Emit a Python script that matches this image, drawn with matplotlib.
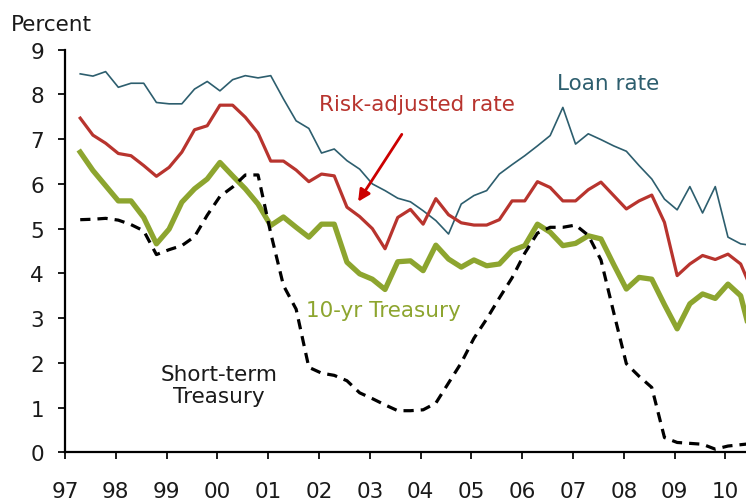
import pandas as pd
import matplotlib
matplotlib.use("Agg")
import matplotlib.pyplot as plt

# quarterly observations, 1997Q1 - 2010Q2
quarters = pd.period_range('1997Q1', '2010Q2', freq='Q')

loan_rate = [8.46, 8.41, 8.51, 8.16, 8.25, 8.25, 7.82, 7.79, 7.79, 8.12,
             8.29, 8.08, 8.33, 8.42, 8.37, 8.42, 7.90, 7.41, 7.24, 6.69,
             6.78, 6.52, 6.33, 6.00, 5.85, 5.68, 5.60, 5.40, 5.18, 4.88,
             5.55, 5.74, 5.85, 6.22, 6.43, 6.63, 6.85, 7.08, 7.71, 6.89,
             7.12, 6.99, 6.85, 6.73, 6.41, 6.11, 5.66, 5.42, 5.94, 5.35,
             5.94, 4.81, 4.66, 4.62]

risk_adjusted = [7.47, 7.09, 6.91, 6.68, 6.63, 6.41, 6.17, 6.37, 6.71, 7.21,
                 7.30, 7.76, 7.76, 7.49, 7.14, 6.51, 6.51, 6.31, 6.05, 6.22,
                 6.18, 5.48, 5.27, 5.00, 4.55, 5.25, 5.43, 5.10, 5.67, 5.31,
                 5.13, 5.08, 5.08, 5.20, 5.62, 5.62, 6.05, 5.92, 5.62, 5.62,
                 5.87, 6.04, 5.74, 5.44, 5.62, 5.75, 5.14, 3.95, 4.21, 4.40,
                 4.31, 4.43, 4.21, 3.55]

ten_yr = [6.71, 6.30, 5.96, 5.62, 5.62, 5.25, 4.66, 4.99, 5.59, 5.89,
          6.11, 6.48, 6.18, 5.89, 5.55, 5.07, 5.26, 5.03, 4.81, 5.10,
          5.10, 4.25, 3.99, 3.87, 3.64, 4.26, 4.28, 4.06, 4.63, 4.32,
          4.14, 4.30, 4.17, 4.21, 4.51, 4.62, 5.10, 4.92, 4.62, 4.67,
          4.84, 4.77, 4.20, 3.65, 3.91, 3.87, 3.30, 2.76, 3.32, 3.54,
          3.44, 3.76, 3.50, 2.40]

short_term = [5.20, 5.21, 5.23, 5.19, 5.09, 4.95, 4.42, 4.53, 4.62, 4.82,
              5.30, 5.72, 5.93, 6.20, 6.20, 4.90, 3.73, 3.20, 1.90, 1.77,
              1.72, 1.60, 1.33, 1.20, 1.06, 0.93, 0.93, 0.95, 1.10, 1.55,
              2.00, 2.55, 2.98, 3.45, 3.90, 4.45, 4.90, 5.03, 5.03, 5.08,
              4.85, 4.30, 3.13, 1.98, 1.70, 1.45, 0.33, 0.22, 0.20, 0.18,
              0.07, 0.14, 0.17, 0.20]

year_labels = ['97', '98', '99', '00', '01', '02', '03', '04', '05', '06',
               '07', '08', '09', '10']

x = [q.year + (q.quarter - 1) / 4 + 0.3 for q in quarters]

plt.rcParams['font.family'] = 'DejaVu Sans'
fs = 15.5

fig = plt.figure(figsize=(7.46, 5.02), dpi=100)
ax = fig.add_axes([0.0871, 0.097, 0.9129, 0.802])

ax.plot(x, loan_rate, color='#2D5E6E', lw=1.2)
ax.plot(x, risk_adjusted, color='#B8342E', lw=2.3)
ax.plot(x, ten_yr, color='#8DA52F', lw=3.8)
ax.plot(x, short_term, color='black', lw=2.3, dashes=(3.2, 2.2))

ax.set_xlim(1997, 2010.405)
ax.set_ylim(0, 9)
ax.set_yticks(range(0, 10))
ax.set_xticks([1997 + i for i in range(len(year_labels))])
ax.set_xticklabels(year_labels)

for side in ['top', 'right']:
    ax.spines[side].set_visible(False)
for side in ['left', 'bottom']:
    ax.spines[side].set_linewidth(1.6)
ax.tick_params(axis='y', length=5, width=1.4, pad=10, labelsize=fs, colors='#1a1a1a')
ax.tick_params(axis='x', length=5, width=1.4, pad=16, labelsize=fs, colors='#1a1a1a')

fig.text(0.015, 0.95, 'Percent', fontsize=fs, color='#1a1a1a', va='center', ha='left')

# series labels
ax.text(2002.0, 7.79, 'Risk-adjusted rate', color='#B8342E', fontsize=fs, va='center')
ax.text(2006.68, 8.26, 'Loan rate', color='#2D5E6E', fontsize=fs, va='center')
ax.text(2001.74, 3.18, '10-yr Treasury', color='#8DA52F', fontsize=fs, va='center')
ax.text(2000.03, 1.5, 'Short-term\nTreasury', color='#1a1a1a', fontsize=fs,
        ha='center', va='center', linespacing=1.1)

ax.annotate('', xy=(2002.74, 5.55), xytext=(2003.66, 7.16),
            arrowprops=dict(arrowstyle='-|>,head_length=0.7,head_width=0.35',
                            color='#CC0000', lw=2))

fig.savefig('out.png', dpi=100)
